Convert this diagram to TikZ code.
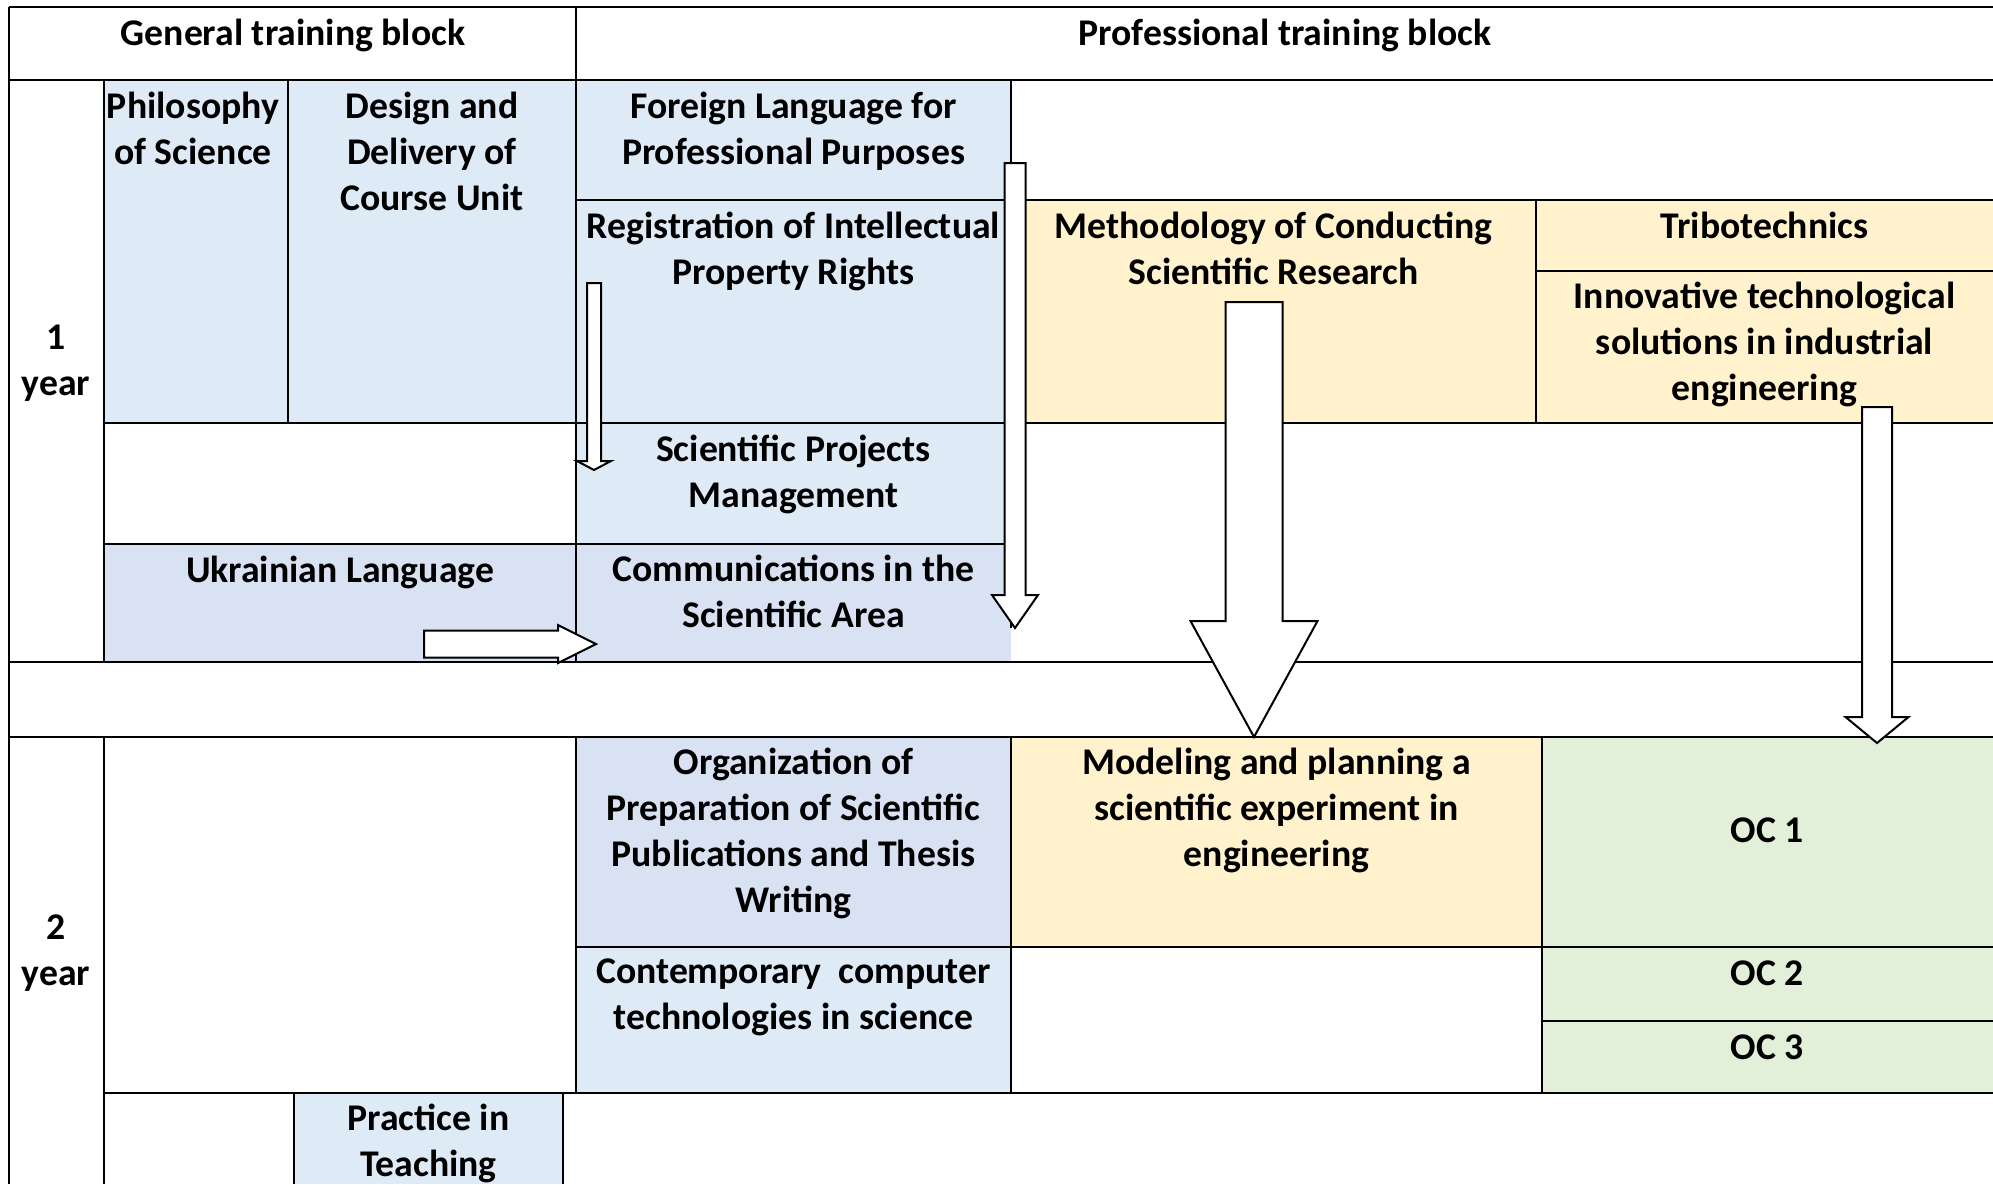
\documentclass[tikz,border=0pt]{standalone}
\usepackage{fontspec}
\setmainfont{Carlito}
\usetikzlibrary{calc,fit}

\definecolor{genblue}{HTML}{DEEAF6}
\definecolor{comblue}{HTML}{D9E2F3}
\definecolor{proyellow}{HTML}{FFF2CC}
\definecolor{optgreen}{HTML}{E2EFD9}

\tikzset{
  cell/.style={inner sep=0pt, outer sep=0pt, draw=none},
  subject/.style={anchor=north, align=center, inner sep=0pt,
    font=\fontsize{37.7}{46}\selectfont\bfseries,
    execute at begin node=\strut},
  hline/.style={line width=2.2pt},
  vline/.style={line width=1.4pt},
  % hollow block arrow: shaft half width, head half width, head length
  hollow/.style n args={3}{fill=white, draw=black, line width=2pt,
    to path={
      let \p1=(\tikztostart), \p2=(\tikztotarget),
          \n1={veclen(\x2-\x1,\y2-\y1)},
          \n2={(\x2-\x1)/\n1}, \n3={(\y2-\y1)/\n1},
          \n4={\n1-#3}
      in ({\x1-#1*\n3},{\y1+#1*\n2})
      -- ({\x1+\n4*\n2-#1*\n3},{\y1+\n4*\n3+#1*\n2})
      -- ({\x1+\n4*\n2-#2*\n3},{\y1+\n4*\n3+#2*\n2})
      -- (\p2)
      -- ({\x1+\n4*\n2+#2*\n3},{\y1+\n4*\n3-#2*\n2})
      -- ({\x1+\n4*\n2+#1*\n3},{\y1+\n4*\n3-#1*\n2})
      -- ({\x1+#1*\n3},{\y1-#1*\n2}) -- cycle}}
}

\begin{document}
\begin{tikzpicture}[x=1pt, y=-1pt]
\clip (0,0) rectangle (1993,1184);

% first year
\node[cell, fill=genblue, fit={(104,80) (288,423)}] (philo) {};
\node[cell, fill=genblue, fit={(288,80) (576,423)}] (design) {};
\node[cell, fill=genblue, fit={(576,80) (1011,200)}] (foreign) {};
\node[cell, fill=genblue, fit={(576,200) (1011,423)}] (regist) {};
\node[cell, fill=proyellow, fit={(1011,200) (1536,423)}] (method) {};
\node[cell, fill=proyellow, fit={(1536,200) (1993,271)}] (tribo) {};
\node[cell, fill=proyellow, fit={(1536,271) (1993,423)}] (innov) {};
\node[cell, fill=genblue, fit={(576,423) (1011,544)}] (sciproj) {};
\node[cell, fill=comblue, fit={(104,544) (576,662)}] (ukr) {};
\node[cell, fill=comblue, fit={(576,544) (1011,662)}] (comm) {};

% second year
\node[cell, fill=comblue, fit={(576,737) (1011,947)}] (organ) {};
\node[cell, fill=proyellow, fit={(1011,737) (1542,947)}] (model) {};
\node[cell, fill=optgreen, fit={(1542,737) (1993,947)}] (oc1) {};
\node[cell, fill=genblue, fit={(576,947) (1011,1093)}] (contemp) {};
\node[cell, fill=optgreen, fit={(1542,947) (1993,1021)}] (oc2) {};
\node[cell, fill=optgreen, fit={(1542,1021) (1993,1093)}] (oc3) {};
\node[cell, fill=genblue, fit={(294,1093) (563,1184)}] (practice) {};

% table rules
\foreach \y/\xa/\xb in {7/9/1993, 80/9/1993, 200/576/1993, 271/1536/1993,
    423/104/1993, 544/104/1011, 662/9/1993, 737/9/1993, 947/576/1993,
    1021/1542/1993, 1093/104/1993}
  \draw[hline] (\xa,\y) -- (\xb,\y);
\draw[hline] (9,7) -- (9,1184);
\draw[hline] (104,80) -- (104,662);
\draw[hline] (104,737) -- (104,1184);
\foreach \x/\ya/\yb in {576/7/662, 576/737/1093, 288/80/423, 1011/80/628,
    1536/200/423, 1011/737/1093, 1542/737/1093, 294/1093/1184, 563/1093/1184}
  \draw[vline] (\x,\ya) -- (\x,\yb);

% arrows
\coordinate (regS) at (594,283);
\coordinate (regE) at (594,470);
\coordinate (forS) at (1015,163);
\coordinate (forE) at (1015,628);
\coordinate (metS) at (1254,302);
\coordinate (metE) at (metS |- model.north);
\coordinate (innS) at (1877,407);
\coordinate (innE) at (1877,743);
\coordinate (ukrS) at (424,644);
\coordinate (ukrE) at (596,644);
\draw[hollow={7}{17}{9}] (regS) to (regE);
\draw[hollow={10.5}{23}{33}] (forS) to (forE);
\draw[hollow={28.5}{63.5}{116}] (metS) to (metE);
\draw[hollow={15}{31.5}{26}] (innS) to (innE);
\draw[hollow={13.5}{19}{38}] (ukrS) to (ukrE);

% texts
\node[subject] (genT) at (293,13) {General training block};
\node[subject] (proT) at (1285,13) {Professional training block};
\node[subject] (year1) at (56,325) {1\\year};
\node[subject] (year2) at (56,915) {2\\year};
\node[subject] (philoT) at ([xshift=-3pt, yshift=-12pt]philo.north) {Philosophy\\of Science};
\node[subject] (designT) at ([yshift=-12pt]design.north) {Design and\\Delivery of\\Course Unit};
\node[subject] (foreignT) at ([yshift=-12pt]foreign.north) {Foreign Language for\\Professional Purposes};
\node[subject] (registT) at ([yshift=-12pt]regist.north) {Registration of Intellectual\\Property Rights};
\node[subject] (methodT) at ([yshift=-12pt]method.north) {Methodology of Conducting\\Scientific Research};
\node[subject] (triboT) at ([yshift=-6pt]tribo.north) {Tribotechnics};
\node[subject] (innovT) at ([yshift=-11pt]innov.north) {Innovative technological\\solutions in industrial\\engineering};
\node[subject] (sciprojT) at ([yshift=-12pt]sciproj.north) {Scientific Projects\\Management};
\node[subject] (ukrT) at ([yshift=-6pt]ukr.north) {Ukrainian Language};
\node[subject] (commT) at ([yshift=-11pt]comm.north) {Communications in the\\Scientific Area};
\node[subject] (organT) at ([yshift=-11pt]organ.north) {Organization of\\Preparation of Scientific\\Publications and Thesis\\Writing};
\node[subject] (modelT) at ([yshift=-11pt]model.north) {Modeling and planning a\\scientific experiment in\\engineering};
\node[subject] (oc1T) at ([yshift=-73pt]oc1.north) {OC 1};
\node[subject] (contempT) at ([yshift=-12pt]contemp.north) {Contemporary\ \ computer\\technologies in science};
\node[subject] (oc2T) at ([yshift=-6pt]oc2.north) {OC 2};
\node[subject] (oc3T) at ([yshift=-6pt]oc3.north) {OC 3};
\node[subject] (practiceT) at ([yshift=-11pt]practice.north) {Practice in\\Teaching};
\end{tikzpicture}
\end{document}
